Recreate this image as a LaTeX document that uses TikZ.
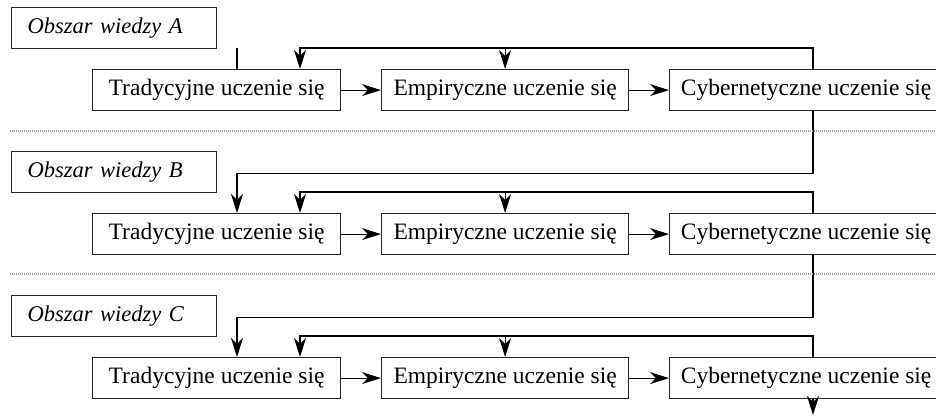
\documentclass[tikz,border=0pt]{standalone}
\usepackage{fontspec}
\setmainfont{Liberation Serif}[ItalicFont={Liberation Serif Italic}]
\usetikzlibrary{arrows.meta}
\begin{document}
\begin{tikzpicture}[x=1pt,y=-1pt,
  line width=1.2pt,
  stagebox/.style={draw=black!85, rectangle, minimum height=41pt, inner sep=0pt,
    font=\fontsize{23.5}{28}\selectfont, anchor=north west},
  areabox/.style={draw=black!85, rectangle, minimum height=41pt, inner xsep=16pt,
    inner ysep=0pt, text width=173pt, align=left,
    font=\fontsize{22.5}{28}\selectfont\itshape, anchor=north west},
  link/.style={draw=black},
  arr/.style={link, -{Stealth[length=19pt,width=12pt,inset=6pt]}},
  sep/.style={draw=black!40, line width=2pt, dash pattern=on 1pt off 1pt}]
\useasboundingbox (0,0) rectangle (936,416);
\clip (0,0) rectangle (936,416);

% vertical tracks of the connectors
\coordinate (xa) at (237,0);
\coordinate (xb) at (300,0);
\coordinate (xc) at (813,0);

\foreach \r/\dy in {A/0,B/144,C/288}{
  \node[areabox] (h\r) at (11,7+\dy) {Obszar wiedzy \r};
  \node[stagebox, minimum width=248pt] (t\r) at (92,69+\dy) {Tradycyjne uczenie się};
  \node[stagebox, minimum width=247pt] (e\r) at (381,69+\dy) {Empiryczne uczenie się};
  \node[stagebox, minimum width=273pt] (c\r) at (669,69+\dy) {Cybernetyczne uczenie się};
  \draw[arr] (t\r) -- (e\r);
  \draw[arr] (e\r) -- (c\r);
  % feedback loop over the row
  \coordinate (f\r) at (813,48+\dy);
  \draw[arr] (c\r.north -| xc) -- (f\r) -| (t\r.north -| xb);
  \draw[arr] (e\r.north |- f\r) -- (e\r.north);
}

% entry into the first area
\draw[link] (xa |- fA) -- (tA.north -| xa);
% transfer between areas
\draw[arr] (cA.south -| xc) -- ++(0,62) -| (tB.north -| xa);
\draw[arr] (cB.south -| xc) -- ++(0,62) -| (tC.north -| xa);
% exit from the last area
\coordinate (out) at (813,415);
\draw[arr] (cC.south -| xc) -- (out);

% separators between areas
\draw[sep] (10,131) -- (936,131);
\draw[sep] (10,274) -- (936,274);
\end{tikzpicture}
\end{document}
